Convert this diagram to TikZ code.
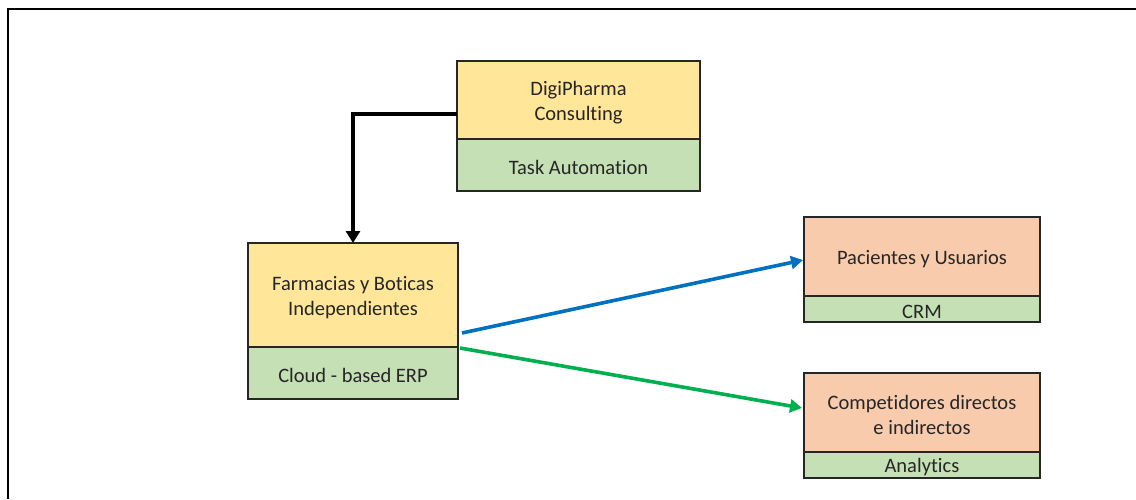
\documentclass[tikz,border=0pt]{standalone}
\usepackage{fontspec}
\setmainfont{Carlito}[RawFeature={-liga;-clig;-dlig}]
\usetikzlibrary{arrows.meta,calc}
\definecolor{headfill}{HTML}{FFE699}
\definecolor{toolfill}{HTML}{C5E0B4}
\definecolor{segfill}{HTML}{F8CBAD}
\definecolor{edgegray}{HTML}{262626}
\definecolor{linkblue}{HTML}{0070C0}
\definecolor{linkgreen}{HTML}{00B050}
\begin{document}
\begin{tikzpicture}[x=1pt,y=-1pt,
  txt/.style={align=center,font=\fontsize{20.5}{25.5}\selectfont,text=edgegray,
    inner sep=0pt,yshift=-2.5pt},
  part/.style={draw=edgegray,line width=1.4pt,inner sep=0pt,outer sep=0pt,
    label={[txt]center:#1}},
  headbox/.style={part={#1},fill=headfill},
  segbox/.style={part={#1},fill=segfill},
  toolbox/.style={part={#1},fill=toolfill},
  link/.style={line width=3.6pt,-{Triangle[length=12pt,width=13pt]}}
]
\useasboundingbox (0,0) rectangle (1136,499);
% frame
\draw[line width=2pt] (1136,8.5) -- (7.5,8.5) -- (7.5,499);

% DigiPharma
\node[headbox={DigiPharma\\Consulting},minimum width=243pt,minimum height=78pt] (digi) at (578.5,100) {};
\node[toolbox={Task Automation},minimum width=243pt,minimum height=52pt,anchor=north] (digitool) at (digi.south) {};

% Farmacias
\node[headbox={Farmacias y Boticas\\Independientes},minimum width=210pt,minimum height=104pt] (farm) at (353,295) {};
\node[toolbox={Cloud - based ERP},minimum width=210pt,minimum height=52pt,anchor=north] (farmtool) at (farm.south) {};

% Pacientes
\node[segbox={Pacientes y Usuarios},minimum width=236pt,minimum height=79pt] (pac) at (922,256.5) {};
\node[toolbox={CRM},minimum width=236pt,minimum height=26pt,anchor=north] (pactool) at (pac.south) {};

% Competidores
\node[segbox={Competidores directos\\e indirectos},minimum width=236pt,minimum height=79pt] (comp) at (922,412.5) {};
\node[toolbox={Analytics},minimum width=236pt,minimum height=26pt,anchor=north] (comptool) at (comp.south) {};

% connectors
\draw[link,-{Triangle[length=12pt,width=14pt]}] ([yshift=-14pt]digi.west) -| (farm.north);
\coordinate (bluestart) at ([shift={(4,90)}]farm.north east);
\coordinate (greenstart) at ([shift={(2,105)}]farm.north east);
\draw[link,linkblue] (bluestart) -- ([shift={(-1,3.5)}]pac.west);
\draw[link,linkgreen] (greenstart) -- ([shift={(-2,-4.5)}]comp.west);
\end{tikzpicture}
\end{document}
